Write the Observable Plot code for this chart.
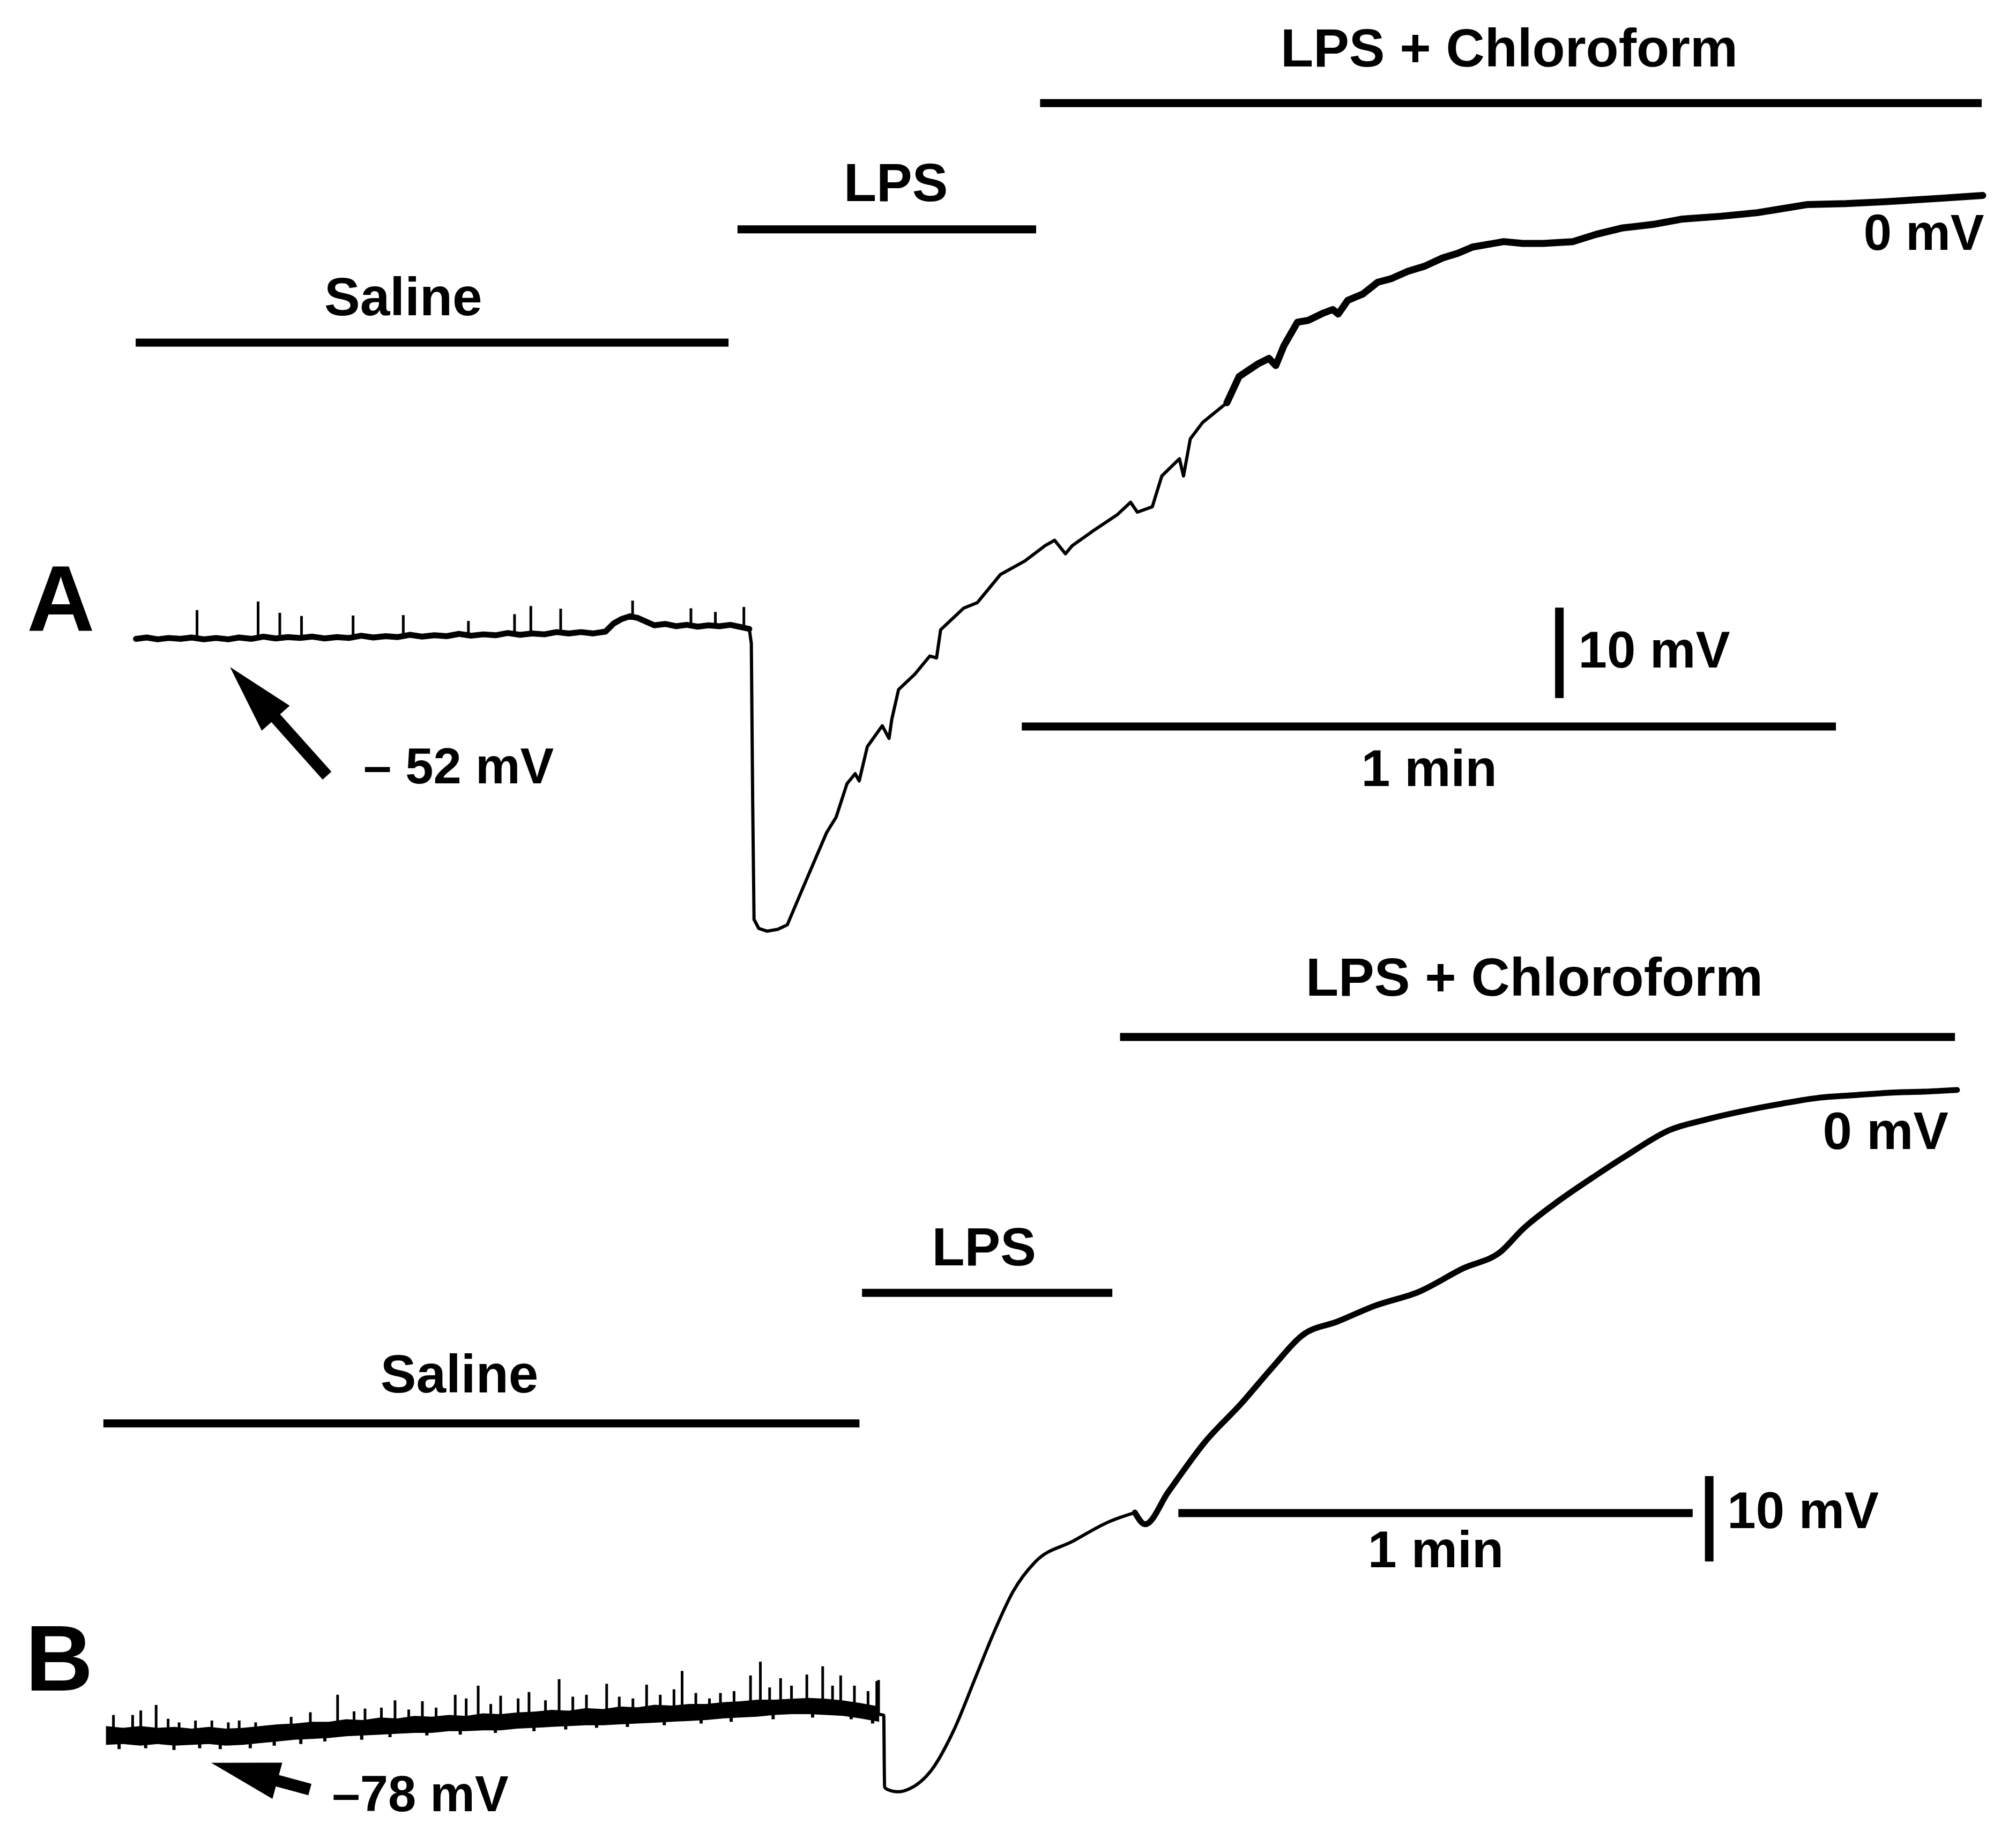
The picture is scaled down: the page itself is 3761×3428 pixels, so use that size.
<!DOCTYPE html>
<html>
<head>
<meta charset="utf-8">
<script src="https://cdn.jsdelivr.net/npm/d3@7"></script>
<script src="https://cdn.jsdelivr.net/npm/@observablehq/plot@0.6"></script>
<style>
  html, body { margin: 0; padding: 0; background: #fff; overflow: hidden; }
  #chart svg { display: block; }
</style>
</head>
<body>
<div id="chart"></div>
<script>
// ---------------- DATA (time in s, membrane potential in mV) ----------------
// Panel A
const drugNamesA   = ["Saline", "LPS", "LPS + Chloroform"];
const drugStartA   = [0, 44.35, 66.65];
const drugEndA     = [43.69, 66.36, 136.04];
const drugLevelA   = [-19.26, -6.74, 7.21];
const drugLabelAtA = [19.7, 56.0, 101.2];

const traceA = [
  [0,-52.0],[0.8,-51.85],[1.6,-52.05],[2.4,-51.9],[3.3,-52.0],[4.1,-51.85],[5.0,-52.05],[5.9,-51.9],
  [6.8,-52.05],[7.6,-51.85],[8.5,-52.0],[9.4,-51.75],[10.3,-51.95],[11.2,-51.8],[12.1,-51.9],[13.0,-51.75],
  [13.9,-51.95],[14.8,-51.8],[15.7,-51.9],[16.6,-51.65],[17.5,-51.85],[18.4,-51.7],[19.3,-51.8],[20.2,-51.55],
  [21.1,-51.75],[22.0,-51.6],[22.9,-51.7],[23.8,-51.45],[24.7,-51.65],[25.6,-51.5],[26.5,-51.6],[27.4,-51.35],
  [28.3,-51.55],[29.2,-51.4],[30.1,-51.5],[31.0,-51.25],[31.9,-51.4],[32.8,-51.25],[33.7,-51.4],[34.6,-51.2],
  [35.2,-50.3],[35.8,-49.8],[36.4,-49.5],[37.0,-49.7],[37.6,-50.1],[38.2,-50.5],[39.0,-50.35],[39.8,-50.6],
  [40.6,-50.45],[41.4,-50.65],[42.2,-50.5],[43.0,-50.6],[43.8,-50.45],[44.6,-50.7],[45.2,-50.9],
  [45.35,-52.5],[45.45,-70.0],[45.55,-83.0],[45.9,-84.0],[46.5,-84.3],[47.3,-84.1],[48.0,-83.6],
  [49.1,-79.7],[50.9,-73.4],[51.6,-71.7],[52.4,-68.0],[53.0,-66.9],[53.3,-67.7],[53.9,-63.9],[55.0,-61.6],
  [55.5,-63.0],[55.7,-60.9],[56.2,-57.6],[57.4,-55.9],[58.5,-53.9],[59.0,-54.1],[59.3,-51.0],[61.0,-48.6],
  [62.0,-48.0],[63.7,-44.9],[65.5,-43.4],[67.0,-41.7],[67.7,-41.1],[68.5,-42.6],[69.0,-41.7],[70.6,-40.0],
  [72.3,-38.3],[73.3,-36.9],[73.8,-38.0],[74.9,-37.4],[75.6,-34.0],[76.9,-32.1],[77.2,-34.0],[77.7,-29.9],
  [78.6,-28.1],[80.4,-25.9],[81.3,-23.0],[82.7,-21.6],[83.5,-21.0],[84.0,-21.8],[84.6,-19.6],[85.6,-17.0],
  [86.4,-16.8],[87.5,-16.0],[88.2,-15.6],[88.6,-16.1],[89.3,-14.6],[90.4,-13.9],[91.5,-12.6],[92.5,-12.2],
  [93.7,-11.4],[95.0,-10.8],[96.3,-9.9],[97.4,-9.4],[98.5,-8.7],[100.8,-8.1],[102.2,-8.3],[103.7,-8.3],
  [105.9,-8.1],[107.6,-7.3],[109.5,-6.6],[111.8,-6.2],[114.0,-5.6],[116.8,-5.3],[119.5,-4.9],[123.2,-4.0],
  [126.0,-3.9],[128.8,-3.7],[133.1,-3.3],[136.1,-3.0]
];
// spontaneous spikes on baseline A: [time, base, peak]
const spikesA = [
  [4.5,-51.95,-48.85],[9.0,-51.9,-47.9],[10.6,-51.85,-49.15],[12.2,-51.8,-49.5],[16.0,-51.75,-49.45],
  [19.7,-51.7,-49.4],[24.5,-51.65,-50.05],[27.9,-51.6,-49.3],[29.1,-51.5,-48.4],[31.3,-51.4,-48.7],
  [36.6,-49.5,-47.8],[40.9,-50.35,-48.65],[42.7,-50.45,-49.05],[44.8,-50.6,-48.5]
];

// Panel B
const drugNamesB   = ["Saline", "LPS", "LPS + Chloroform"];
const drugStartB   = [-0.3, 88.2, 118.3];
const drugEndB     = [87.9, 117.4, 215.7];
const drugLevelB   = [-41.79, -26.48, 3.52];
const drugLabelAtB = [41.2, 102.4, 166.6];

// noisy baseline band B: [time, lower, upper]
const bandB = [
  [0,-79.5,-77.3],[2,-79.4,-77.5],[4,-79.6,-77.3],[6,-79.4,-77.5],[8,-79.6,-77.4],[10,-79.5,-77.6],
  [12,-79.4,-77.4],[14,-79.6,-77.6],[16,-79.5,-77.5],[18,-79.3,-77.3],[20,-79.1,-77.1],[22,-78.9,-77.0],
  [24,-78.8,-76.8],[26,-78.7,-76.8],[28,-78.5,-76.5],[30,-78.4,-76.6],[32,-78.3,-76.3],[34,-78.2,-76.4],
  [36,-78.1,-76.1],[38,-78.1,-76.2],[40,-77.9,-76.0],[42,-77.9,-76.1],[44,-77.8,-75.8],[46,-77.8,-75.9],
  [48,-77.6,-75.7],[50,-77.5,-75.6],[52,-77.4,-75.4],[54,-77.3,-75.5],[56,-77.2,-75.2],[58,-77.2,-75.3],
  [60,-77.1,-75.0],[62,-77.0,-75.1],[64,-76.9,-74.8],[66,-76.8,-74.9],[68,-76.7,-74.7],[70,-76.6,-74.7],
  [72,-76.4,-74.5],[74,-76.3,-74.4],[76,-76.2,-74.2],[78,-76.0,-74.2],[80,-75.9,-74.1],[82,-75.9,-74.0],
  [84,-76.0,-74.1],[86,-76.1,-74.3],[88,-76.4,-74.6],[90.2,-76.8,-75.0]
];
const spikesB = [
  [0.84,-78.4,-76.0],[3.08,-78.4,-76.0],[4.03,-78.4,-75.47],[5.82,-78.4,-74.82],[7.22,-78.4,-76.44],
  [8.50,-78.4,-76.87],[10.41,-78.4,-76.65],[12.32,-78.4,-76.65],[14.24,-78.4,-76.87],[15.51,-78.4,-76.65],
  [17.43,-78.3,-76.87],[21.57,-78.0,-76.22],[23.81,-77.8,-75.68],[26.99,-77.6,-73.63],[28.91,-77.5,-75.57],
  [30.19,-77.4,-75.25],[32.10,-77.3,-75.14],[33.69,-77.2,-74.28],[35.29,-77.1,-75.36],[36.88,-77.1,-74.39],
  [38.48,-77.0,-75.14],[40.71,-76.9,-73.63],[41.99,-76.9,-74.06],[43.39,-76.8,-72.56],[44.86,-76.8,-74.71],
  [46.01,-76.7,-73.74],[48.05,-76.6,-74.06],[49.32,-76.6,-73.31],[51.24,-76.5,-74.28],[52.83,-76.4,-71.80],
  [54.43,-76.4,-73.85],[56.02,-76.3,-73.63],[58.38,-76.2,-72.34],[59.85,-76.1,-73.85],[61.44,-76.0,-74.06],
  [63.04,-76.0,-72.45],[64.63,-75.9,-73.63],[66.23,-75.8,-72.99],[67.18,-75.8,-70.83],[68.78,-75.7,-73.42],
  [70.37,-75.6,-74.06],[71.65,-75.5,-73.42],[73.24,-75.4,-73.20],[75.16,-75.3,-71.37],[76.31,-75.2,-69.75],
  [77.39,-75.1,-72.77],[78.67,-75.1,-71.69],[79.94,-75.0,-72.56],[81.73,-75.0,-71.26],[83.58,-75.0,-70.29],
  [84.73,-75.0,-72.56],[85.68,-75.1,-71.37],[87.28,-75.3,-72.56],[88.87,-75.6,-73.20],[89.89,-75.8,-72.02],
  [90.1,-75.9,-71.9]
];
// downward noise excursions on baseline B: [time, base, trough]
const dipsB = [
  [1.5,-78.5,-80.0],[4.6,-78.5,-79.9],[7.9,-78.5,-80.1],[10.9,-78.5,-79.9],[13.3,-78.5,-80.0],
  [16.8,-78.4,-79.9],[19.6,-78.2,-79.6],[22.7,-78.0,-79.4],[25.5,-77.8,-79.1],[29.8,-77.5,-78.9],
  [33.1,-77.3,-78.6],[37.4,-77.1,-78.4],[41.3,-76.9,-78.3],[45.4,-76.8,-78.1],[49.9,-76.6,-77.9],
  [53.6,-76.4,-77.7],[57.2,-76.2,-77.5],[60.8,-76.0,-77.4],[65.1,-75.9,-77.2],[69.4,-75.7,-77.0],
  [72.9,-75.5,-76.8],[77.8,-75.1,-76.5],[82.4,-75.0,-76.3],[86.9,-75.3,-76.5],[89.4,-75.7,-77.0]
];
const traceB = [
  [90.2,-75.9],[90.7,-76.0],[90.8,-84.4],[91.06,-84.67],[92.4,-84.97],[93.6,-84.67],[96.3,-82.39],
  [98.9,-77.70],[101.5,-71.33],[103.6,-66.18],[105.8,-61.48],[108.4,-58.0],[112.8,-55.58],[117.0,-53.30],
  [120.0,-52.24],[121.2,-53.61],[123.9,-49.82],[128.1,-44.06],[132.5,-39.36],[136.0,-35.27],[139.5,-31.48],
  [143.7,-29.82],[148.0,-28.0],[153.2,-26.33],[158.3,-23.61],[162.7,-21.64],[165.2,-19.06],[169.6,-15.58],
  [173.8,-12.70],[177.3,-10.42],[182.4,-7.39],[186.5,-6.2],[191.2,-5.12],[195.5,-4.3],[199.8,-3.61],
  [204.0,-3.3],[208.4,-3.0],[212.0,-2.9],[215.9,-2.7]
];

// Annotations (time, mV)
const restLabelA = "– 52 mV", restLabelB = "–78 mV";
const restArrowA = [14.1, -67.14, 6.95, -55.14];   // tail t, tail V, tip t, tip V
const restArrowB = [23.79, -84.74, 12.27, -81.6];
const restTextA = [16.76, -66.2], restTextB = [26.34, -85.36];
const zeroTextA = [136.2, -7.21], zeroTextB = [214.9, -7.64];
const timeBarA = [65.3, 125.3, -61.69];   // start, end (60 s), level
const voltBarA = [104.9, -58.57, -48.57]; // time, from, to (10 mV)
const voltTextA = [106.3, -53.33];
const timeBarB = [125.1, 185.1, -52.3];
const voltBarB = [187.0, -58.0, -48.0];
const voltTextB = [189.1, -52.1];
const panelLetterA = [-8.03, -51.11], panelLetterB = [-9.44, -73.12];

// ---------------- LAYOUT ----------------
const W = 3761, HA = 1760, HB = 3428 - 1760;
const FONT = "'Liberation Sans', Arial, Helvetica, sans-serif";
const labelGapA = [51, 53, 68], labelGapB = [58, 51, 77];

function arrowMark(a) {
  return (index, scales) => {
    const x0 = scales.x(a[0]), y0 = scales.y(a[1]), x1 = scales.x(a[2]), y1 = scales.y(a[3]);
    const dx = x1 - x0, dy = y1 - y0, len = Math.hypot(dx, dy);
    const ux = dx / len, uy = dy / len, nx = -uy, ny = ux;
    const L = 128, HW = 35;
    const bx = x1 - ux * L, by = y1 - uy * L;
    const g = d3.create("svg:g");
    g.append("line").attr("x1", x0).attr("y1", y0).attr("x2", bx + ux * 4).attr("y2", by + uy * 4)
      .attr("stroke", "#000").attr("stroke-width", 22);
    g.append("path")
      .attr("d", `M${x1},${y1}L${bx + nx * HW},${by + ny * HW}L${bx - nx * HW},${by - ny * HW}Z`)
      .attr("fill", "#000");
    return g.node();
  };
}

function panel(o) {
  const bars = o.names.map((n, i) => ({name: n, start: o.start[i], end: o.end[i], level: o.level[i], at: o.labelAt[i]}));
  const txt = {fill: "#000", fontFamily: FONT, fontWeight: "bold", stroke: null};
  return Plot.plot({
    width: W, height: o.height,
    marginTop: 0, marginRight: 0, marginBottom: 0, marginLeft: 0,
    x: {domain: o.xDomain, axis: null},
    y: {domain: o.yDomain, axis: null},
    style: {background: "#fff"},
    marks: [
      // drug application bars and labels
      Plot.ruleY(bars, {y: "level", x1: "start", x2: "end", stroke: "#000", strokeWidth: 15}),
      ...bars.map((b, i) => Plot.text([b], {x: "at", y: "level", text: "name", ...txt, fontSize: 100,
        textAnchor: "middle", lineAnchor: "bottom", dy: -o.gaps[i]})),
      // recording
      ...o.traceMarks,
      // scale bars
      Plot.ruleY([o.timeBar], {y: d => d[2], x1: d => d[0], x2: d => d[1], stroke: "#000", strokeWidth: 15}),
      Plot.text([o.timeBar], {x: d => (d[0] + d[1]) / 2, y: d => d[2], text: () => "1 min", ...txt, fontSize: 97,
        textAnchor: "middle", lineAnchor: "top", dy: o.minGap}),
      Plot.ruleX([o.voltBar], {x: d => d[0], y1: d => d[1], y2: d => d[2], stroke: "#000", strokeWidth: 16}),
      Plot.text([o.voltText], {x: d => d[0], y: d => d[1], text: () => "10 mV", ...txt, fontSize: 96,
        textAnchor: "start", lineAnchor: "middle"}),
      // potentials
      Plot.text([o.zeroText], {x: d => d[0], y: d => d[1], text: () => "0 mV", ...txt, fontSize: o.zeroSize,
        textAnchor: "end", lineAnchor: "middle"}),
      Plot.text([o.restText], {x: d => d[0], y: d => d[1], text: () => o.restLabel, ...txt, fontSize: 94,
        textAnchor: "start", lineAnchor: "middle"}),
      arrowMark(o.arrow),
      // panel letter
      Plot.text([o.letterPos], {x: d => d[0], y: d => d[1], text: () => o.letter, ...txt, fontSize: 175,
        textAnchor: "start", lineAnchor: "bottom"})
    ]
  });
}

const X = d => d[0], Y = d => d[1];
const svgA = panel({
  height: HA, xDomain: [-10, 138.571], yDomain: [-85.71, 18.571],
  names: drugNamesA, start: drugStartA, end: drugEndA, level: drugLevelA, labelAt: drugLabelAtA, gaps: labelGapA,
  traceMarks: [
    Plot.line(traceA, {x: X, y: Y, filter: d => d[0] <= 45.2, stroke: "#000", strokeWidth: 11, strokeLinejoin: "round"}),
    Plot.ruleX(spikesA, {x: X, y1: d => d[1], y2: d => d[2], stroke: "#000", strokeWidth: 5}),
    Plot.line(traceA, {x: X, y: Y, filter: d => d[0] >= 45.2 && d[0] <= 80.4, stroke: "#000", strokeWidth: 6, strokeLinejoin: "round"}),
    Plot.line(traceA, {x: X, y: Y, filter: d => d[0] >= 80.4, stroke: "#000", strokeWidth: 13, strokeLinejoin: "round"})
  ],
  timeBar: timeBarA, voltBar: voltBarA, voltText: voltTextA, minGap: 42, zeroSize: 94,
  zeroText: zeroTextA, restText: restTextA, restLabel: restLabelA, arrow: restArrowA,
  letter: "A", letterPos: panelLetterA
});
const svgB = panel({
  height: HB, xDomain: [-12.362, 222.82], yDomain: [-90.42, 14.42],
  names: drugNamesB, start: drugStartB, end: drugEndB, level: drugLevelB, labelAt: drugLabelAtB, gaps: labelGapB,
  traceMarks: [
    Plot.areaY(bandB, {x: X, y1: d => d[1], y2: d => d[2], fill: "#000"}),
    Plot.ruleX(spikesB, {x: X, y1: d => d[1], y2: d => d[2], stroke: "#000", strokeWidth: 5}),
    Plot.ruleX(dipsB, {x: X, y1: d => d[1], y2: d => d[2], stroke: "#000", strokeWidth: 6}),
    Plot.line(traceB, {x: X, y: Y, filter: d => d[0] <= 120.0, stroke: "#000", strokeWidth: 6,
      strokeLinejoin: "round", curve: "monotone-x"}),
    Plot.line(traceB, {x: X, y: Y, filter: d => d[0] >= 120.0, stroke: "#000", strokeWidth: 11,
      strokeLinejoin: "round", curve: "monotone-x"})
  ],
  timeBar: timeBarB, voltBar: voltBarB, voltText: voltTextB, minGap: 32, zeroSize: 98,
  zeroText: zeroTextB, restText: restTextB, restLabel: restLabelB, arrow: restArrowB,
  letter: "B", letterPos: panelLetterB
});
document.getElementById("chart").append(svgA, svgB);
</script>
</body>
</html>
